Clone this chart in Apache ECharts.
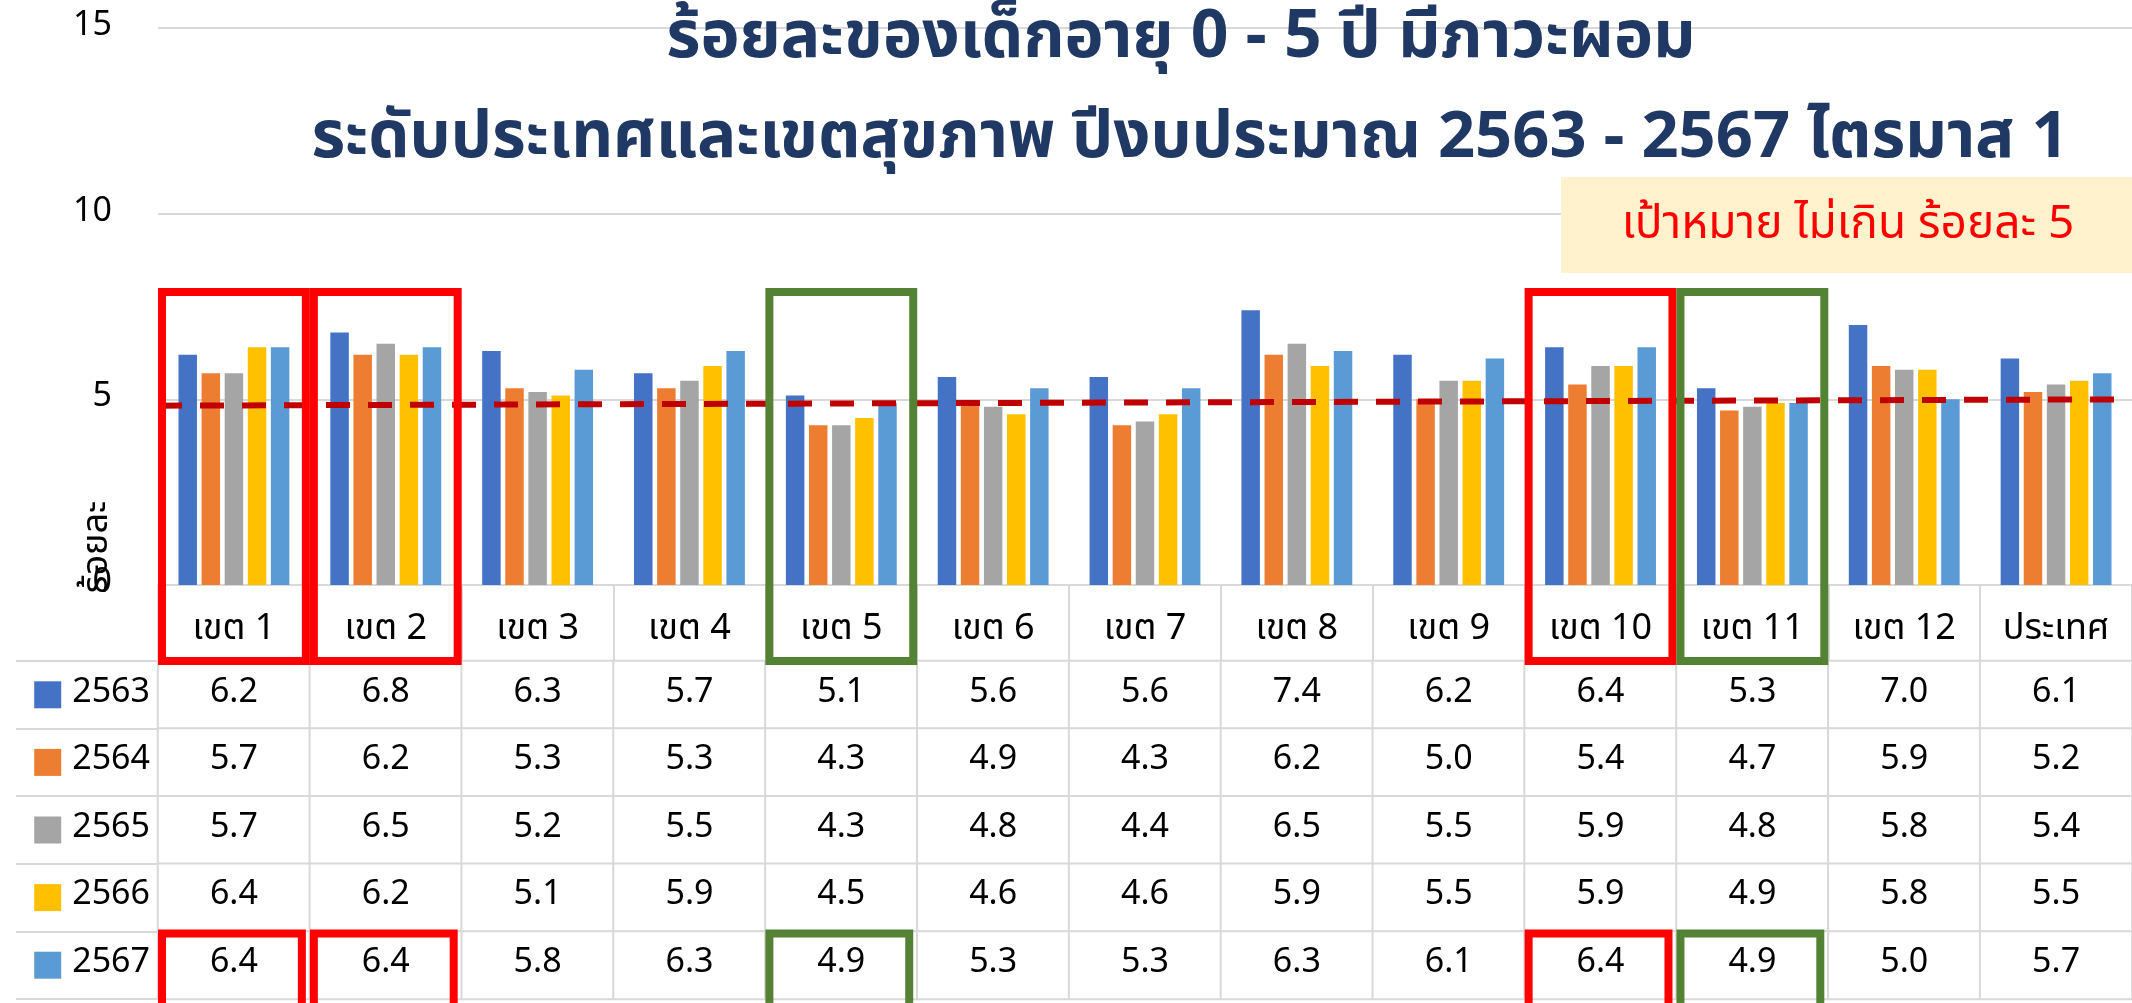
<!DOCTYPE html>
<html>
<head>
<meta charset="utf-8">
<script src="https://cdn.jsdelivr.net/npm/echarts@6/dist/echarts.min.js"></script>
<style>
html,body{margin:0;padding:0;background:#fff;}
#chart{width:2132px;height:1003px;}
</style>
</head>
<body>
<div id="chart"></div>
<script>
// categories
const zones = ['เขต 1','เขต 2','เขต 3','เขต 4','เขต 5','เขต 6','เขต 7','เขต 8','เขต 9','เขต 10','เขต 11','เขต 12','ประเทศ'];
const years = ['2563','2564','2565','2566','2567'];
// values per fiscal year (ร้อยละ)
const v2563 = [6.2,6.8,6.3,5.7,5.1,5.6,5.6,7.4,6.2,6.4,5.3,7.0,6.1];
const v2564 = [5.7,6.2,5.3,5.3,4.3,4.9,4.3,6.2,5.0,5.4,4.7,5.9,5.2];
const v2565 = [5.7,6.5,5.2,5.5,4.3,4.8,4.4,6.5,5.5,5.9,4.8,5.8,5.4];
const v2566 = [6.4,6.2,5.1,5.9,4.5,4.6,4.6,5.9,5.5,5.9,4.9,5.8,5.5];
const v2567 = [6.4,6.4,5.8,6.3,4.9,5.3,5.3,6.3,6.1,6.4,4.9,5.0,5.7];
// target line (drawn slightly sloped in the original), left end / right end
const targetEnds = [4.83, 5.0];
// highlighted zones
const redZones = ['เขต 1','เขต 2','เขต 10'];
const greenZones = ['เขต 5','เขต 11'];
const boxTopValue = 8;

const yearValues = [v2563, v2564, v2565, v2566, v2567];
const colors = ['#4472C4','#ED7D31','#A5A5A5','#FFC000','#5B9BD5'];
const font = 'Tahoma, "Leelawadee UI", "Noto Sans Thai", "DejaVu Sans", sans-serif';
const grey = '#D9D9D9';
const navy = '#203864';

var myChart = echarts.init(document.getElementById('chart'));

let tableData = [];
yearValues.forEach((arr, j) => {
    arr.forEach((v, i) => {
        tableData.push([i, j, v]);
    });
});

let rich = { t: { fontSize: 34, color: '#000', fontFamily: font, padding: [0,0,0,11] } };
colors.forEach((c, i) => {
    rich['s' + i] = { backgroundColor: c, width: 27, height: 27 };
});

let series = years.map((y, j) => ({
    name: y,
    type: 'bar',
    xAxisIndex: 0,
    yAxisIndex: 0,
    barGap: '25%',
    barCategoryGap: '27%',
    itemStyle: { color: colors[j] },
    data: yearValues[j]
}));
series.push({
    type: 'line',
    xAxisIndex: 2,
    yAxisIndex: 0,
    symbol: 'none',
    z: 5,
    lineStyle: { color: '#C00000', width: 6, type: [24, 18] },
    data: [[0, targetEnds[0]], [1, targetEnds[1]]]
});
series.push({
    type: 'heatmap',
    xAxisIndex: 1,
    yAxisIndex: 1,
    itemStyle: { color: '#fff', borderColor: grey, borderWidth: 2 },
    label: {
        show: true, fontSize: 34, color: '#000', fontFamily: font,
        formatter: (p) => p.value[2].toFixed(1)
    },
    emphasis: { disabled: true },
    data: tableData
});

let option = {
    animation: false,
    backgroundColor: '#fff',
    textStyle: { fontFamily: font },
    grid: [
        { left: 158, top: 28, width: 1976, height: 557 },
        { left: 158, top: 661, width: 1976, height: 338 }
    ],
    xAxis: [
        {
            type: 'category', gridIndex: 0, data: zones,
            axisLine: { show: true, lineStyle: { color: grey, width: 2 } },
            axisTick: { show: true, length: 76, lineStyle: { color: grey, width: 2 } },
            axisLabel: { fontSize: 36, color: '#000', margin: 29, interval: 0 }
        },
        { type: 'category', gridIndex: 1, data: zones, show: false },
        { type: 'value', gridIndex: 0, min: 0, max: 1, show: false }
    ],
    yAxis: [
        {
            type: 'value', gridIndex: 0, min: 0, max: 15, interval: 5,
            axisLine: { show: false }, axisTick: { show: false },
            axisLabel: { fontSize: 34, color: '#000', margin: 46 },
            splitLine: { lineStyle: { color: grey, width: 2 } }
        },
        {
            type: 'category', gridIndex: 1, data: years, inverse: true,
            axisLine: { show: false },
            axisTick: { show: true, length: 142, lineStyle: { color: grey, width: 2 } },
            axisLabel: {
                margin: 8,
                formatter: (v, i) => '{s' + i + '|}{t|' + v + '}',
                rich: rich
            }
        },
        {
            type: 'category', gridIndex: 1, data: years, inverse: true, offset: 142,
            axisLine: { show: true, lineStyle: { color: grey, width: 2 } },
            axisTick: { show: false }, axisLabel: { show: false }
        }
    ],
    series: series
};
myChart.setOption(option);

// annotation shapes placed through the chart's own axes
function drawBoxes() {
    let c0 = myChart.convertToPixel({ xAxisIndex: 0 }, zones[0]);
    let c1 = myChart.convertToPixel({ xAxisIndex: 0 }, zones[1]);
    let colW = c1 - c0;
    let r0 = myChart.convertToPixel({ yAxisIndex: 1 }, years[0]);
    let r1 = myChart.convertToPixel({ yAxisIndex: 1 }, years[1]);
    let rowH = r1 - r0;
    let headerBottom = r0 - rowH / 2;
    let lastRowTop = myChart.convertToPixel({ yAxisIndex: 1 }, years[years.length - 1]) - rowH / 2;
    let top = myChart.convertToPixel({ yAxisIndex: 0 }, boxTopValue);
    let elements = [];
    function boxes(list, color) {
        list.forEach((z) => {
            let left = myChart.convertToPixel({ xAxisIndex: 0 }, z) - colW / 2;
            elements.push({
                type: 'rect', z: 100,
                shape: { x: left + 4, y: top + 4, width: colW - 8, height: headerBottom - top - 4 },
                style: { fill: null, stroke: color, lineWidth: 8 }
            });
            elements.push({
                type: 'rect', z: 100,
                shape: { x: left + 4, y: lastRowTop + 2, width: colW - 12, height: rowH + 30 },
                style: { fill: null, stroke: color, lineWidth: 8 }
            });
        });
    }
    boxes(redZones, '#FF0000');
    boxes(greenZones, '#548235');
    // chart title, two lines
    elements.push({
        type: 'text', z: 91, x: 1181, y: 44,
        style: { text: 'ร้อยละของเด็กอายุ 0 - 5 ปี มีภาวะผอม', fill: navy, fontSize: 66, fontWeight: 'bold', fontFamily: font, align: 'center', verticalAlign: 'middle' }
    });
    elements.push({
        type: 'text', z: 91, x: 1190, y: 144,
        style: { text: 'ระดับประเทศและเขตสุขภาพ ปีงบประมาณ 2563 - 2567 ไตรมาส 1', fill: navy, fontSize: 65, fontWeight: 'bold', fontFamily: font, align: 'center', verticalAlign: 'middle' }
    });
    // target note
    elements.push({
        type: 'rect', z: 90,
        shape: { x: 1561, y: 177, width: 580, height: 96 },
        style: { fill: '#FFF2CC' }
    });
    elements.push({
        type: 'text', z: 91, x: 1848, y: 229,
        style: { text: 'เป้าหมาย ไม่เกิน ร้อยละ 5', fill: '#FF0000', fontSize: 46, fontFamily: font, align: 'center', verticalAlign: 'middle' }
    });
    // y axis name
    elements.push({
        type: 'text', z: 91, x: 100, y: 547, rotation: Math.PI / 2,
        style: { text: 'ร้อยละ', fill: '#000', fontSize: 36, fontFamily: font, align: 'center', verticalAlign: 'middle' }
    });
    myChart.setOption({ graphic: elements });
}
drawBoxes();
</script>
</body>
</html>
